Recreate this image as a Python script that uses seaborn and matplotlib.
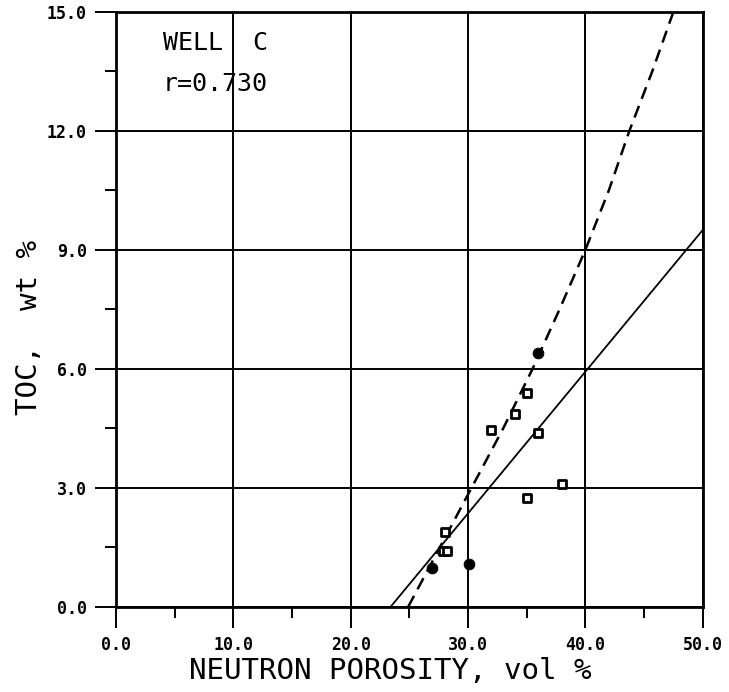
import numpy as np
import pandas as pd
import matplotlib
matplotlib.use("Agg")
import matplotlib.pyplot as plt
import seaborn as sns
from matplotlib.ticker import MultipleLocator, FixedLocator

# data
sq_porosity = [35.0, 34.0, 32.0, 36.0, 38.0, 35.0, 28.0, 27.9, 28.2]
sq_toc = [5.38, 4.85, 4.45, 4.38, 3.10, 2.74, 1.90, 1.41, 1.41]
dot_porosity = [36.0, 30.1, 26.9]
dot_toc = [6.40, 1.08, 0.98]

# linear fit (solid)
lin_porosity = [23.4, 50.0]
lin_toc = [0.0, 9.5]

# curved fit (dashed)
crv_porosity = [24.9, 27.6, 30.3, 33.0, 35.5, 37.8, 40.0, 42.0, 43.75, 45.7, 47.5]
crv_toc = [0.0, 1.5, 3.0, 4.5, 6.0, 7.5, 9.0, 10.5, 12.0, 13.5, 15.0]

x_ticks = [0, 10, 20, 30, 40, 50]
x_labels = ["0.0", "10.0", "20.0", "30.0", "40.0", "50.0"]
y_ticks = [0, 3, 6, 9, 12, 15]
y_labels = ["0.0", "3.0", "6.0", "9.0", "12.0", "15.0"]

sns.set_theme(style="white")
plt.rcParams["font.family"] = ["DejaVu Sans Mono", "DejaVu Sans"]
plt.rcParams["text.color"] = "black"
plt.rcParams["axes.labelcolor"] = "black"
plt.rcParams["xtick.color"] = "black"
plt.rcParams["ytick.color"] = "black"

fig = plt.figure(figsize=(7.29, 6.92), dpi=100)
ax = fig.add_axes([0.159, 0.123, 0.805, 0.860])

sq = pd.DataFrame({"x": sq_porosity, "y": sq_toc})
dots = pd.DataFrame({"x": dot_porosity, "y": dot_toc})
lin = pd.DataFrame({"x": lin_porosity, "y": lin_toc})
crv = pd.DataFrame({"x": crv_porosity, "y": crv_toc})

sns.lineplot(data=lin, x="x", y="y", ax=ax, color="black", lw=1.3,
             sort=False, estimator=None)
sns.lineplot(data=crv, x="x", y="y", ax=ax, color="black", lw=1.8,
             sort=False, estimator=None, dashes=False, linestyle=(0, (5, 3)))
sns.scatterplot(data=sq, x="x", y="y", ax=ax, marker="s", s=30,
                facecolor="white", edgecolor="black", linewidth=2.0,
                zorder=5)
sns.scatterplot(data=dots, x="x", y="y", ax=ax, marker="o", s=60,
                color="black", edgecolor="black", zorder=5)

ax.set_xlim(0, 50)
ax.set_ylim(0, 15)
ax.xaxis.set_major_locator(FixedLocator(x_ticks))
ax.set_xticklabels(x_labels)
ax.yaxis.set_major_locator(FixedLocator(y_ticks))
ax.set_yticklabels(y_labels)
ax.xaxis.set_minor_locator(MultipleLocator(5))
ax.yaxis.set_minor_locator(MultipleLocator(1.5))

ax.grid(True, which="major", color="black", lw=1.4)
ax.set_axisbelow(True)
for s in ax.spines.values():
    s.set_color("black")
    s.set_linewidth(2.0)

ax.tick_params(axis="both", which="major", direction="out", length=15,
               width=1.4, color="black", labelcolor="black", labelsize=12,
               pad=6, bottom=True, left=True)
ax.tick_params(axis="both", which="minor", direction="out", length=8,
               width=1.4, color="black", bottom=True, left=True)
for t in ax.get_xticklabels() + ax.get_yticklabels():
    t.set_fontweight("bold")

ax.set_xlabel("NEUTRON POROSITY, vol %", fontsize=21, color="black")
ax.set_ylabel("TOC,  wt %", fontsize=21, color="black")
ax.xaxis.set_label_coords(0.468, -0.085)
ax.yaxis.set_label_coords(-0.125, 0.47)

ax.text(4.0, 14.04, "WELL  C", fontsize=18, color="black")
ax.text(4.0, 13.0, "r=0.730", fontsize=18, color="black")

fig.savefig("out.png", dpi=100, facecolor="white")
